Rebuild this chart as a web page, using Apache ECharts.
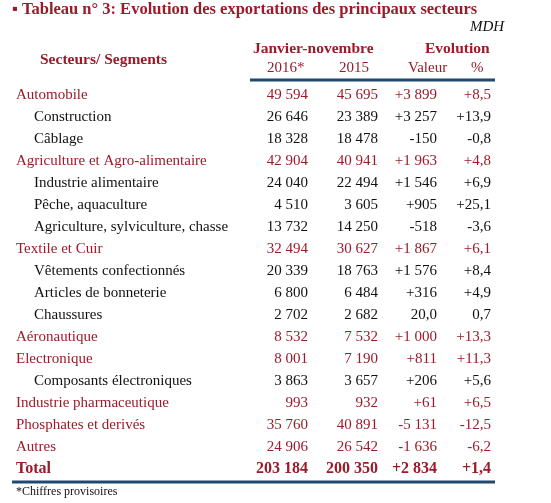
<!DOCTYPE html>
<html><head><meta charset="utf-8">
<script src="https://cdn.jsdelivr.net/npm/echarts@6/dist/echarts.min.js"></script>
<style>html,body{margin:0;background:#fff}#c{width:551px;height:503px}</style>
</head><body><div id="c"></div>
<script>
var sectors = ['Automobile','Construction','Câblage','Agriculture et Agro-alimentaire','Industrie alimentaire','Pêche, aquaculture','Agriculture, sylviculture, chasse','Textile et Cuir','Vêtements confectionnés','Articles de bonneterie','Chaussures','Aéronautique','Electronique','Composants électroniques','Industrie pharmaceutique','Phosphates et derivés','Autres','Total'];
var isSub = [0,1,1,0,1,1,1,0,1,1,1,0,0,1,0,0,0,0];
var values2016 = ['49 594','26 646','18 328','42 904','24 040','4 510','13 732','32 494','20 339','6 800','2 702','8 532','8 001','3 863','993','35 760','24 906','203 184'];
var values2015 = ['45 695','23 389','18 478','40 941','22 494','3 605','14 250','30 627','18 763','6 484','2 682','7 532','7 190','3 657','932','40 891','26 542','200 350'];
var evoValue = ['+3 899','+3 257','-150','+1 963','+1 546','+905','-518','+1 867','+1 576','+316','20,0','+1 000','+811','+206','+61','-5 131','-1 636','+2 834'];
var evoPct = ['+8,5','+13,9','-0,8','+4,8','+6,9','+25,1','-3,6','+6,1','+8,4','+4,9','0,7','+13,3','+11,3','+5,6','+6,5','-12,5','-6,2','+1,4'];

var red = '#9b1b2a', blue = '#1f4a6e', font = 'Liberation Serif';
var chart = echarts.init(document.getElementById('c'));
var colX = [308, 378, 437, 491];

chart.setOption({
  animation: false,
  grid: {left: 0, right: 0, top: 84, bottom: 23},
  xAxis: {type: 'value', min: 0, max: 551, show: false},
  yAxis: {type: 'category', data: sectors, inverse: true, show: false},
  graphic: [
    {type: 'text', left: 12, top: 1, style: {text: '▪ Tableau n° 3: Evolution des exportations des principaux secteurs', font: 'bold 16.5px ' + font, fill: red}},
    {type: 'text', left: 470, top: 20, style: {text: 'MDH', font: 'italic 15px ' + font, fill: '#111'}},
    {type: 'text', left: 40, top: 52, style: {text: 'Secteurs/ Segments', font: 'bold 15.5px ' + font, fill: red}},
    {type: 'text', left: 253, top: 41, style: {text: 'Janvier-novembre', font: 'bold 15.5px ' + font, fill: red}},
    {type: 'text', left: 425, top: 41, style: {text: 'Evolution', font: 'bold 15.5px ' + font, fill: red}},
    {type: 'text', left: 267, top: 61, style: {text: '2016*', font: '15px ' + font, fill: red}},
    {type: 'text', left: 339, top: 61, style: {text: '2015', font: '15px ' + font, fill: red}},
    {type: 'text', left: 408, top: 61, style: {text: 'Valeur', font: '15px ' + font, fill: red}},
    {type: 'text', left: 471, top: 61, style: {text: '%', font: '15px ' + font, fill: red}},
    {type: 'line', shape: {x1: 250, y1: 80, x2: 495, y2: 80}, style: {stroke: blue, lineWidth: 3}},
    {type: 'line', shape: {x1: 12, y1: 482, x2: 495, y2: 482}, style: {stroke: blue, lineWidth: 3}},
    {type: 'text', left: 16, top: 486, style: {text: '*Chiffres provisoires', font: '12px ' + font, fill: '#111'}}
  ],
  series: [{
    type: 'custom',
    data: sectors.map(function (s, i) { return [0, i]; }),
    renderItem: function (params, api) {
      var i = params.dataIndex;
      var y = api.coord([0, i])[1];
      var total = i === sectors.length - 1;
      var f = (total ? 'bold 16px ' : '15px ') + font;
      var nameColor = isSub[i] ? '#111' : red;
      var cells = [values2016[i], values2015[i], evoValue[i], evoPct[i]];
      var kids = [{type: 'text', style: {text: sectors[i], x: isSub[i] ? 34 : 16, y: y, font: f, fill: nameColor, verticalAlign: 'middle'}}];
      cells.forEach(function (t, k) {
        kids.push({type: 'text', style: {text: t, x: colX[k], y: y, font: f, fill: nameColor, align: 'right', verticalAlign: 'middle'}});
      });
      return {type: 'group', children: kids};
    }
  }]
});
</script></body></html>
